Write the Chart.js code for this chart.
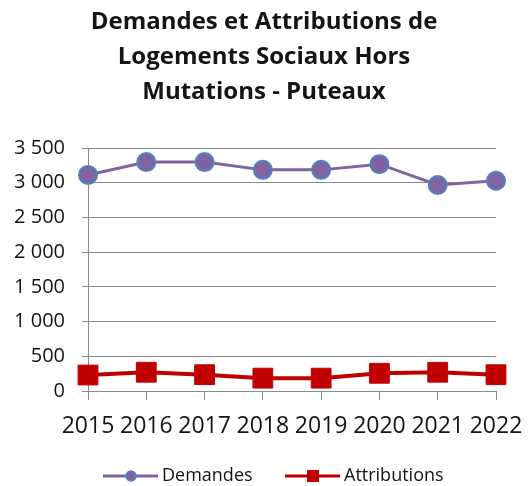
<!DOCTYPE html>
<html>
<head>
    <meta charset="utf-8">
    <script src="https://cdn.jsdelivr.net/npm/chart.js"></script>
    <style>
        html, body { margin: 0; padding: 0; background: #fff; }
        #wrap { width: 528px; height: 486px; }
    </style>
</head>
<body>
    <div id="wrap">
        <canvas id="myChart" width="528" height="486"></canvas>
    </div>
    <script>
        // données
        const years = ['2015', '2016', '2017', '2018', '2019', '2020', '2021', '2022'];
        const demandes = [3112, 3297, 3297, 3185, 3185, 3267, 2967, 3029];
        const attributions = [230, 270, 235, 185, 185, 255, 270, 235];
        const yTicks = [0, 500, 1000, 1500, 2000, 2500, 3000, 3500];

        const titleLines = ['Demandes et Attributions de', 'Logements Sociaux Hors', 'Mutations - Puteaux'];
        const seriesNames = ['Demandes', 'Attributions'];

        const purple = '#8064A2';
        const blue = '#4F81BD';
        const red = '#C00000';
        const gridColor = '#8a8a8a';
        const textColor = '#141414';

        // format "3 500"
        function fmt(v) {
            if (v < 1000) return String(v);
            return Math.floor(v / 1000) + ' ' + String(v % 1000).padStart(3, '0');
        }

        // titre centre sur toute la largeur (comme Excel)
        const titlePlugin = {
            id: 'excelTitle',
            afterDraw(chart) {
                const ctx = chart.ctx;
                ctx.save();
                ctx.font = 'bold 24px "Open Sans"';
                ctx.textAlign = 'center';
                ctx.textBaseline = 'middle';
                ctx.fillStyle = textColor;
                titleLines.forEach((line, i) => {
                    ctx.fillText(line, 264, 22 + i * 35);
                });
                ctx.restore();
            }
        };

        // legende dessinee a la main (ligne + marqueur comme Excel)
        const legendPlugin = {
            id: 'excelLegend',
            afterDraw(chart) {
                const ctx = chart.ctx;
                const y = 476;
                ctx.save();
                ctx.font = '18px "Open Sans"';
                ctx.textBaseline = 'middle';

                // Demandes
                ctx.strokeStyle = purple;
                ctx.lineWidth = 3;
                ctx.beginPath();
                ctx.moveTo(103, y);
                ctx.lineTo(158, y);
                ctx.stroke();
                ctx.beginPath();
                ctx.arc(131, y, 5, 0, Math.PI * 2);
                ctx.fillStyle = purple;
                ctx.fill();
                ctx.lineWidth = 1.5;
                ctx.strokeStyle = blue;
                ctx.stroke();
                ctx.fillStyle = textColor;
                ctx.fillText(seriesNames[0], 162, y);

                // Attributions
                ctx.strokeStyle = red;
                ctx.lineWidth = 3;
                ctx.beginPath();
                ctx.moveTo(285, y);
                ctx.lineTo(340, y);
                ctx.stroke();
                ctx.fillStyle = red;
                ctx.fillRect(307, y - 6, 12, 12);
                ctx.fillStyle = textColor;
                ctx.fillText(seriesNames[1], 344, y);
                ctx.restore();
            }
        };

        new Chart(document.getElementById('myChart'), {
            type: 'line',
            data: {
                labels: years,
                datasets: [{
                    label: seriesNames[0],
                    data: demandes,
                    borderColor: purple,
                    borderWidth: 3,
                    pointStyle: 'circle',
                    pointRadius: 9,
                    pointBackgroundColor: purple,
                    pointBorderColor: blue,
                    pointBorderWidth: 2,
                    tension: 0
                }, {
                    label: seriesNames[1],
                    data: attributions,
                    borderColor: red,
                    borderWidth: 4,
                    pointStyle: 'rect',
                    pointRadius: 14,
                    pointBackgroundColor: red,
                    pointBorderColor: red,
                    pointBorderWidth: 1,
                    tension: 0
                }]
            },
            options: {
                responsive: false,
                animation: false,
                layout: { padding: { left: 0, right: 32, top: 148, bottom: 45 } },
                plugins: {
                    legend: { display: false },
                    tooltip: { enabled: false },
                    title: { display: false }
                },
                scales: {
                    x: {
                        offset: false,
                        grid: {
                            display: true,
                            drawOnChartArea: false,
                            drawTicks: true,
                            tickLength: 9,
                            color: gridColor
                        },
                        border: { display: true, color: gridColor, width: 1 },
                        ticks: {
                            color: textColor,
                            font: { family: 'Open Sans', size: 23 },
                            padding: 13,
                            maxRotation: 0,
                            autoSkip: false
                        },
                        afterFit(scale) {
                            scale.height = 50;
                            scale.paddingLeft = 0;
                            scale.paddingRight = 0;
                        }
                    },
                    y: {
                        min: 0,
                        max: 3500,
                        afterBuildTicks(scale) {
                            scale.ticks = yTicks.map(v => ({ value: v }));
                        },
                        grid: {
                            color: gridColor,
                            lineWidth: 1,
                            tickLength: 6
                        },
                        border: { display: true, color: gridColor, width: 1 },
                        ticks: {
                            color: textColor,
                            font: { family: 'Open Sans', size: 20 },
                            padding: 17,
                            callback: v => fmt(v)
                        },
                        afterFit(scale) { scale.width = 88; }
                    }
                }
            },
            plugins: [titlePlugin, legendPlugin]
        });
    </script>
</body>
</html>
